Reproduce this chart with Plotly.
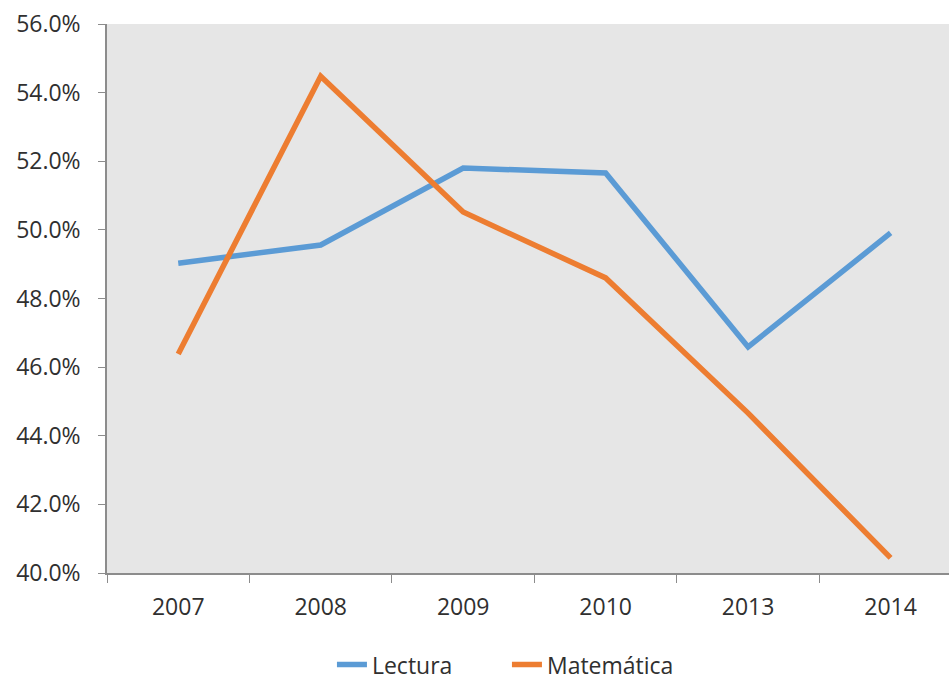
import plotly.graph_objects as go

years = ["2007", "2008", "2009", "2010", "2013", "2014"]
lectura = [49.03, 49.56, 51.80, 51.66, 46.59, 49.91]
matematica = [46.38, 54.48, 50.52, 48.60, 44.66, 40.44]
y_ticks = [40, 42, 44, 46, 48, 50, 52, 54, 56]
y_tick_labels = [f"{v:.1f}%" for v in y_ticks]

fig = go.Figure()
fig.add_trace(go.Scatter(x=years, y=lectura, name="Lectura", mode="lines",
                         line=dict(color="#5B9BD5", width=5.5)))
fig.add_trace(go.Scatter(x=years, y=matematica, name="Matemática", mode="lines",
                         line=dict(color="#ED7D31", width=5.5)))

font = dict(family="Open Sans, Noto Sans, sans-serif", size=23, color="#303030")

fig.update_layout(
    width=949, height=681,
    margin=dict(l=107, r=0, t=24, b=108, autoexpand=False),
    paper_bgcolor="white",
    plot_bgcolor="#E6E6E6",
    font=font,
    showlegend=True,
    legend=dict(orientation="h", x=0.475, xanchor="center",
                yref="container", y=0.024, yanchor="middle",
                font=font, itemwidth=30, entrywidth=130),
    xaxis=dict(
        type="category", range=[-0.5, 5.41], automargin=False,
        showgrid=False, zeroline=False,
        showline=True, linecolor="#8C8C8C", linewidth=1.5,
        ticks="outside", tickson="boundaries", ticklen=8, tickcolor="#8C8C8C",
        ticklabelstandoff=13,
    ),
    yaxis=dict(
        range=[40, 56], tickvals=y_ticks, ticktext=y_tick_labels, automargin=False,
        showgrid=False, zeroline=False,
        showline=True, linecolor="#8C8C8C", linewidth=1.5,
        ticks="outside", ticklen=7, tickcolor="#8C8C8C",
        ticklabelstandoff=13,
    ),
)

# the page body has a default 8px margin; drop it so the figure fills the window
fig.write_html("out.html", config={"displayModeBar": False},
               post_script="document.body.style.margin='0';")
